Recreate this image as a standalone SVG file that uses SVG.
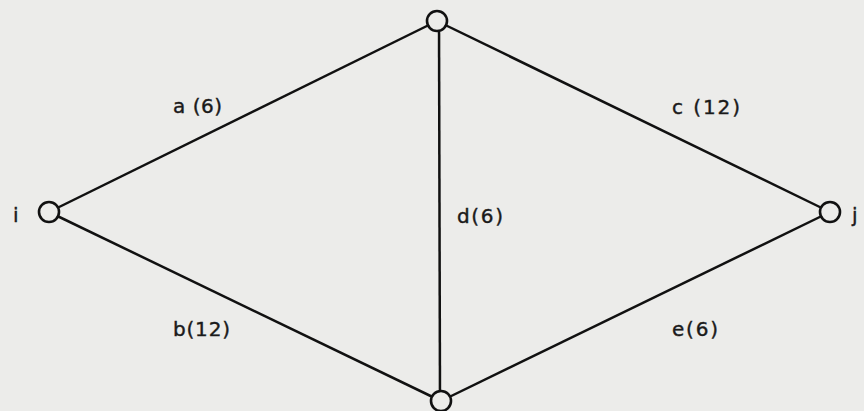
<svg xmlns="http://www.w3.org/2000/svg" width="864" height="411" viewBox="0 0 864 411">
<style>
.e{stroke:#111;stroke-width:2.5;fill:none}
.n{stroke:#111;stroke-width:2.6;fill:#ececea}
text{font-family:"DejaVu Sans","Liberation Sans",sans-serif;font-size:20px;fill:#1a1a1a;stroke:#1a1a1a;stroke-width:0.4}
</style>
<rect width="864" height="411" fill="#ececea"/>
<g id="connectors">
<line class="e" x1="49" y1="212" x2="437" y2="21"/>
<line class="e" x1="49" y1="212" x2="441" y2="401"/>
<line class="e" x1="437" y1="21" x2="830" y2="212"/>
<line class="e" x1="441" y1="401" x2="830" y2="212"/>
<line class="e" x1="439" y1="21" x2="440" y2="401"/>
</g>
<g id="labels">
<text x="173" y="113" textLength="49" lengthAdjust="spacing">a (6)</text>
<text x="672" y="114" textLength="68" lengthAdjust="spacing">c (12)</text>
<text x="457" y="223" textLength="46" lengthAdjust="spacing">d(6)</text>
<text x="173" y="336" textLength="57" lengthAdjust="spacing">b(12)</text>
<text x="672" y="336" textLength="46" lengthAdjust="spacing">e(6)</text>
</g>
<g id="node-top"><circle class="n" cx="437" cy="21" r="10"/></g>
<g id="node-i"><circle class="n" cx="49" cy="212" r="10"/><text x="13" y="222">i</text></g>
<g id="node-j"><circle class="n" cx="830" cy="212" r="10"/><text x="852" y="222">j</text></g>
<g id="node-bottom"><circle class="n" cx="441" cy="401" r="10"/></g>
</svg>
